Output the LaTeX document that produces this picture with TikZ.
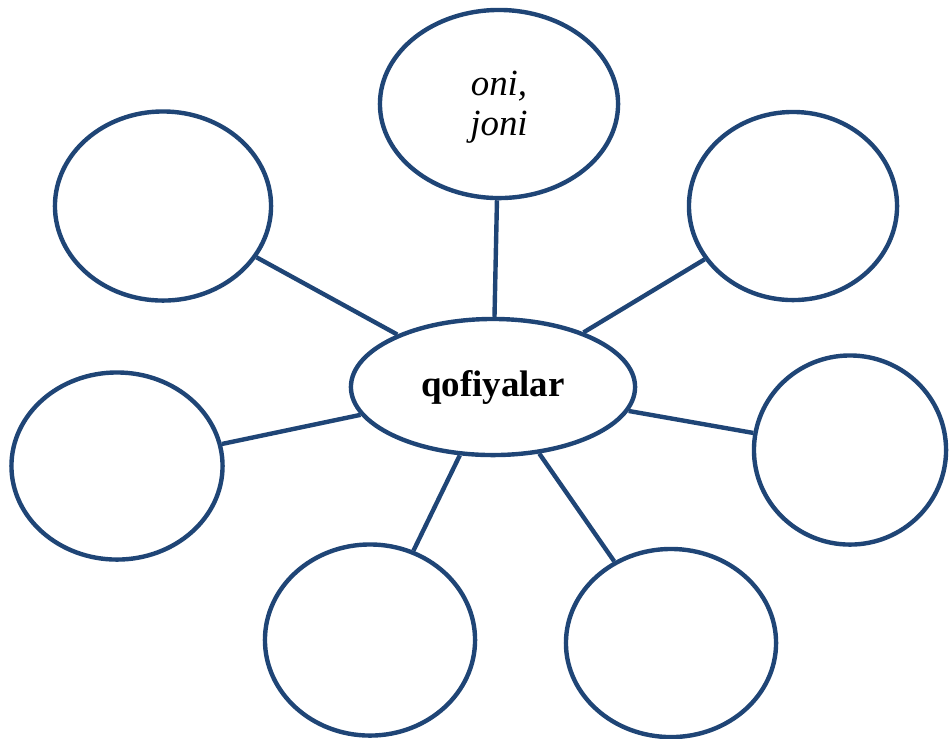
\documentclass[tikz,border=0pt]{standalone}
\usepackage{fontspec}
\setmainfont{Liberation Serif}
\usetikzlibrary{shapes.geometric}
\definecolor{rimblue}{RGB}{31,69,118}
\tikzset{
  bubble/.style={ellipse,draw=rimblue,line width=0.044cm,inner sep=0pt,fill=white,
    font=\fontsize{10.5}{11.4}\selectfont,align=center},
  spoke/.style={draw=rimblue,line width=0.044cm}
}
\begin{document}
\begin{tikzpicture}[x=0.01cm,y=-0.01cm]
      \useasboundingbox (0,0) rectangle (949,738);
      \node[bubble,minimum width=2.84cm,minimum height=1.36cm] (hub) at (493,387) {\textbf{qofiyalar}};
      \node[bubble,minimum width=2.38cm,minimum height=1.88cm] (top) at (499,104)
        {\raisebox{-0.13cm}[0pt][0pt]{\itshape\begin{tabular}{@{}c@{}}oni,\\joni\end{tabular}}};
      \node[bubble,minimum width=2.16cm,minimum height=1.89cm] (upleft) at (163,206) {};
      \node[bubble,minimum width=2.08cm,minimum height=1.88cm] (upright) at (793,206) {};
      \node[bubble,minimum width=2.11cm,minimum height=1.87cm] (left) at (117,466) {};
      \node[bubble,minimum width=1.92cm,minimum height=1.89cm] (right) at (850,450) {};
      \node[bubble,minimum width=2.10cm,minimum height=1.91cm] (downleft) at (370,640) {};
      \node[bubble,minimum width=2.10cm,minimum height=1.88cm] (downright) at (671,643) {};
      \foreach \n in {top,upleft,upright,left,right,downleft,downright}
        \draw[spoke] (hub) -- (\n);
    \end{tikzpicture}
\end{document}
